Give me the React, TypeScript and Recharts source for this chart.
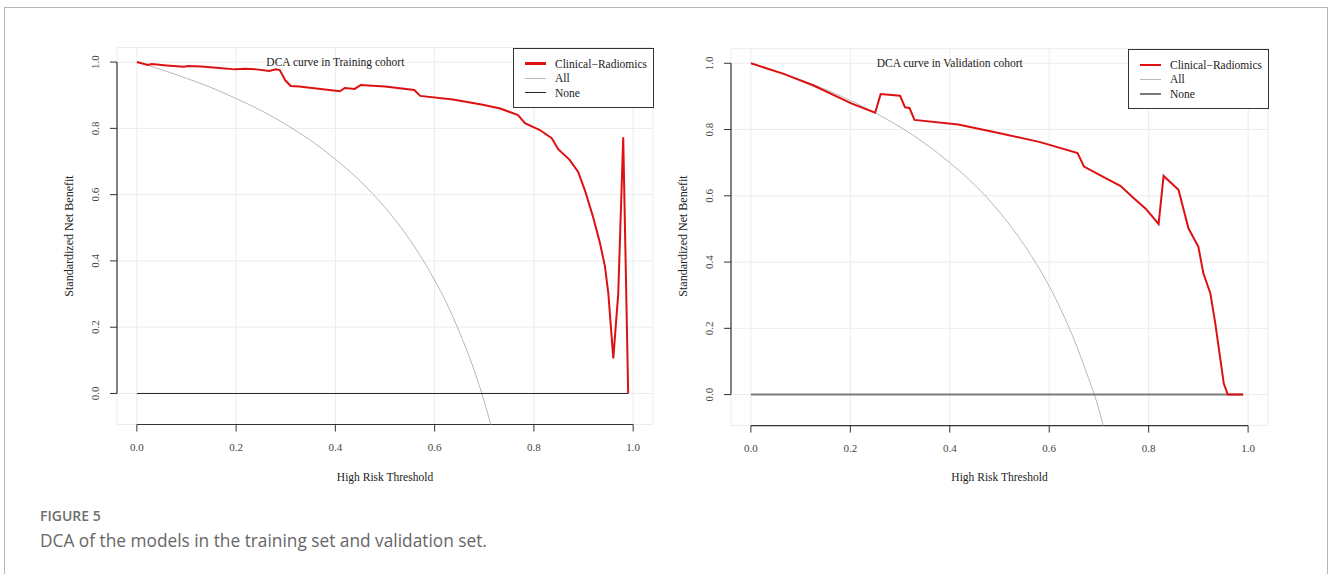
import React from 'react';
import { LineChart, Line, XAxis, YAxis, CartesianGrid, ReferenceLine } from 'recharts';

// thresholds / standardized net benefit
const trainThreshold = [0, 0.022, 0.03, 0.06, 0.095, 0.103, 0.13, 0.16, 0.198, 0.219, 0.241, 0.267, 0.28, 0.288, 0.299, 0.31, 0.327, 0.409, 0.419, 0.439, 0.451, 0.5, 0.559, 0.571, 0.637, 0.697, 0.732, 0.768, 0.782, 0.812, 0.836, 0.849, 0.872, 0.889, 0.903, 0.919, 0.933, 0.943, 0.95, 0.96, 0.97, 0.98, 0.99];
const trainModel = [1.0, 0.991, 0.994, 0.99, 0.986, 0.988, 0.987, 0.983, 0.978, 0.98, 0.978, 0.973, 0.978, 0.976, 0.945, 0.928, 0.926, 0.912, 0.922, 0.919, 0.931, 0.926, 0.916, 0.898, 0.887, 0.871, 0.86, 0.84, 0.816, 0.795, 0.77, 0.737, 0.705, 0.669, 0.612, 0.534, 0.455, 0.385, 0.302, 0.106, 0.302, 0.773, 0.0];

const validThreshold = [0, 0.066, 0.126, 0.203, 0.25, 0.261, 0.3, 0.31, 0.319, 0.329, 0.417, 0.503, 0.582, 0.657, 0.67, 0.717, 0.743, 0.769, 0.794, 0.82, 0.83, 0.86, 0.88, 0.9, 0.91, 0.924, 0.934, 0.951, 0.959, 0.99];
const validModel = [1.0, 0.968, 0.933, 0.878, 0.851, 0.907, 0.902, 0.867, 0.865, 0.829, 0.815, 0.788, 0.762, 0.729, 0.688, 0.65, 0.63, 0.594, 0.561, 0.515, 0.66, 0.618, 0.502, 0.446, 0.366, 0.306, 0.215, 0.034, 0.0, 0.0];

const allThreshold = [0, 0.05, 0.1, 0.15, 0.2, 0.25, 0.3, 0.35, 0.4, 0.45, 0.5, 0.55, 0.6, 0.625, 0.65, 0.675, 0.695, 0.72];
const trainAll = [1.0, 0.977, 0.951, 0.923, 0.89, 0.854, 0.812, 0.764, 0.707, 0.641, 0.561, 0.464, 0.342, 0.27, 0.185, 0.09, 0.0, -0.13];
const validAll = [1.0, 0.976, 0.95, 0.921, 0.888, 0.85, 0.808, 0.758, 0.7, 0.633, 0.551, 0.451, 0.327, 0.252, 0.166, 0.066, -0.02, -0.16];

const noneThreshold = [0, 0.99];
const noneValue = [0, 0];

const ticks = [0, 0.2, 0.4, 0.6, 0.8, 1.0];
const legendItems = ['Clinical\u2212Radiomics', 'All', 'None'];

const toRows = (xs: number[], ys: number[]) => xs.map((t, i) => ({ t, v: ys[i] }));

const SERIF = '"Liberation Serif", "DejaVu Serif", serif';
const RED = '#dd1111';
const X_DOMAIN: [number, number] = [-0.04, 1.04];
const Y_DOMAIN: [number, number] = [-0.0936, 1.044];

interface PanelProps {
  left: number;
  margin: { top: number; left: number; right: number; bottom: number };
  model: { t: number; v: number }[];
  all: { t: number; v: number }[];
  title: string;
  noneColor: string;
  noneWidth: number;
  plotLeft: number;
  plotTop: number;
  plotW: number;
}

const XTick = (p: any) => (
  <text x={p.x} y={p.y + 19} textAnchor="middle" fontFamily={SERIF} fontSize={11} fill="#444">
    {Number(p.payload.value).toFixed(1)}
  </text>
);

const YTick = (p: any) => (
  <text
    x={p.x - 11}
    y={p.y}
    textAnchor="middle"
    fontFamily={SERIF}
    fontSize={11}
    fill="#444"
    transform={`rotate(-90 ${p.x - 11} ${p.y})`}
  >
    {Number(p.payload.value).toFixed(1)}
  </text>
);

const Panel: React.FC<PanelProps> = ({ left, margin, model, all, title, noneColor, noneWidth, plotLeft, plotTop, plotW }) => {
  const ppu = plotW / (X_DOMAIN[1] - X_DOMAIN[0]);
  const zeroX = plotLeft + 0.04 * ppu;
  const legendColors = [RED, '#b8b8b8', noneColor];
  const legendWidths = [2.2, 1, noneWidth];
  return (
    <div style={{ position: 'absolute', left, top: 0, width: 664, height: 480 }}>
      <LineChart width={664} height={480} margin={margin}>
        <CartesianGrid stroke="#ececec" strokeWidth={1} />
        <XAxis
          type="number"
          dataKey="t"
          domain={X_DOMAIN}
          ticks={ticks}
          allowDataOverflow
          axisLine={false}
          tickLine={{ stroke: '#333' }}
          tickSize={7}
          tickMargin={0}
          height={30}
          tick={<XTick />}
        />
        <YAxis
          type="number"
          dataKey="v"
          domain={Y_DOMAIN}
          ticks={ticks}
          allowDataOverflow
          axisLine={false}
          tickLine={{ stroke: '#333' }}
          tickSize={7}
          tickMargin={0}
          width={40}
          tick={<YTick />}
        />
        <ReferenceLine segment={[{ x: 0, y: Y_DOMAIN[0] }, { x: 1, y: Y_DOMAIN[0] }]} stroke="#333" strokeWidth={1.2} />
        <ReferenceLine segment={[{ x: X_DOMAIN[0], y: 0 }, { x: X_DOMAIN[0], y: 1 }]} stroke="#333" strokeWidth={1.2} />
        <Line data={all} dataKey="v" type="monotone" stroke="#b8b8b8" strokeWidth={1} dot={false} isAnimationActive={false} />
        <Line data={toRows(noneThreshold, noneValue)} dataKey="v" stroke={noneColor} strokeWidth={noneWidth} dot={false} isAnimationActive={false} />
        <Line data={model} dataKey="v" stroke={RED} strokeWidth={2} dot={false} isAnimationActive={false} />
      </LineChart>

      <div style={{ position: 'absolute', left: zeroX - left + 0.4 * ppu, top: plotTop + 14.5, transform: 'translate(-50%, -50%)', fontFamily: SERIF, fontSize: 11.5, color: '#222', whiteSpace: 'nowrap' }}>
        {title}
      </div>

      <div style={{ position: 'absolute', left: zeroX - left + 0.5 * ppu, top: 476.5, transform: 'translate(-50%, -50%)', fontFamily: SERIF, fontSize: 11.5, color: '#222', whiteSpace: 'nowrap' }}>
        High Risk Threshold
      </div>

      <div style={{ position: 'absolute', left: plotLeft - left - 48, top: 236, transform: 'translate(-50%, -50%) rotate(-90deg)', fontFamily: SERIF, fontSize: 12, color: '#222', whiteSpace: 'nowrap' }}>
        Standardized Net Benefit
      </div>

      <div style={{ position: 'absolute', left: plotLeft - left + plotW - 140, top: plotTop, width: 139, height: 58, border: '1px solid #333', background: '#fff' }}>
        {legendItems.map((name, i) => (
          <div key={name} style={{ position: 'absolute', left: 0, top: 15 + i * 14.5, height: 0 }}>
            <div style={{ position: 'absolute', left: 10.5, width: 21, top: -legendWidths[i] / 2, height: legendWidths[i], background: legendColors[i] }} />
            <div style={{ position: 'absolute', left: 41, top: -7, lineHeight: '14px', fontFamily: SERIF, fontSize: 11.5, color: '#222', whiteSpace: 'nowrap' }}>
              {name}
            </div>
          </div>
        ))}
      </div>
    </div>
  );
};

export default function App() {
  return (
    <div style={{ position: 'absolute', left: 0, top: 0, width: 1328, height: 574, background: '#fff', overflow: 'hidden' }}>
      <div style={{ position: 'absolute', left: 4, top: 7, width: 1322, height: 620, border: '1px solid #b5b5b5' }} />
      <Panel
        left={0}
        margin={{ top: 47.5, left: 77, right: 11, bottom: 25.5 }}
        model={toRows(trainThreshold, trainModel)}
        all={toRows(allThreshold, trainAll)}
        title="DCA curve in Training cohort"
        noneColor="#222"
        noneWidth={1}
        plotLeft={117}
        plotTop={47.5}
        plotW={536}
      />
      <Panel
        left={664}
        margin={{ top: 48.7, left: 27, right: 60, bottom: 24.4 }}
        model={toRows(validThreshold, validModel)}
        all={toRows(allThreshold, validAll)}
        title="DCA curve in Validation cohort"
        noneColor="#7a7a7a"
        noneWidth={2}
        plotLeft={731}
        plotTop={48.7}
        plotW={537}
      />
      <div style={{ position: 'absolute', left: 40, top: 507, fontFamily: '"Open Sans", sans-serif', fontWeight: 600, fontSize: 14, color: '#6e6e6e', lineHeight: '18px' }}>
        FIGURE 5
      </div>
      <div style={{ position: 'absolute', left: 40, top: 530, fontFamily: '"Open Sans", sans-serif', fontSize: 17.3, color: '#666', lineHeight: '22px', whiteSpace: 'nowrap' }}>
        DCA of the models in the training set and validation set.
      </div>
    </div>
  );
}
